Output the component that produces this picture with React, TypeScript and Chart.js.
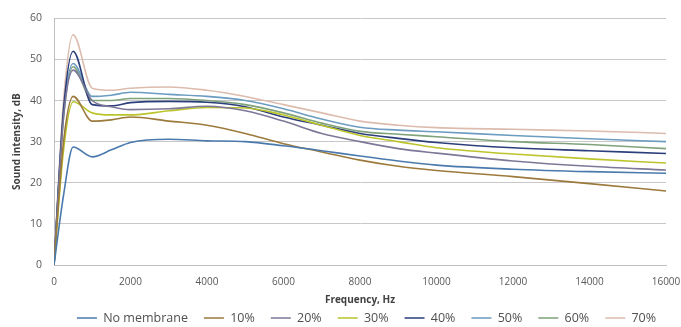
import React, { useEffect, useRef } from "react";
import { Chart, registerables } from "chart.js";

Chart.register(...registerables);

const frequencies = [0, 250, 500, 1000, 1500, 2000, 3000, 4000, 5000, 6000, 7000, 8000, 9000, 10000, 12000, 14000, 16000];

const noMembrane = [0, 17, 28.7, 26.3, 28, 29.8, 30.6, 30.2, 30, 29, 27.8, 26.5, 25.3, 24.3, 23.3, 22.7, 22.3];
const p10 = [0, 30, 41, 35, 35.3, 36, 35, 34, 32, 29.5, 27.5, 25.5, 24, 23, 21.5, 19.8, 18];
const p20 = [0, 36, 47.4, 40, 38.5, 37.8, 38, 38.6, 37.5, 35, 32, 30, 28.3, 27.2, 25.3, 24, 23.1];
const p30 = [0, 28, 39.7, 37, 36.5, 36.5, 37.5, 38.3, 38.2, 36.5, 34, 31.5, 30, 28.5, 27, 25.8, 24.8];
const p40 = [0, 38, 52, 39, 38.7, 39.5, 39.8, 39.6, 38.5, 36, 34, 32, 30.8, 29.8, 28.5, 27.8, 27.1];
const p50 = [0, 37, 49, 41, 41.3, 42, 41.5, 41, 40, 38, 35.5, 33.5, 32.8, 32.4, 31.5, 30.7, 30];
const p60 = [0, 36, 48.2, 40, 40, 40.5, 40.5, 40, 39, 37, 34.5, 32.5, 31.8, 31.2, 30, 29.3, 28.3];
const p70 = [0, 40, 56, 43, 42.5, 43, 43.3, 42.5, 41, 39, 37, 35, 34, 33.4, 33, 32.6, 32];

const seriesNames = ["No membrane", "10%", "20%", "30%", "40%", "50%", "60%", "70%"];
const seriesValues = [noMembrane, p10, p20, p30, p40, p50, p60, p70];
const seriesColors = ["#4a7aad", "#9c7a3c", "#7d7898", "#bcc42c", "#2c3f7c", "#6c9cc0", "#7fa27a", "#dcbcae"];

const xTicks = [0, 2000, 4000, 6000, 8000, 10000, 12000, 14000, 16000];
const yTicks = [0, 10, 20, 30, 40, 50, 60];

const LEGEND_PAD = 16;
const LEGEND_CENTER_Y = 318;
const LEGEND_FONT = 12.5;
const LEGEND_SHIFT_X = 26;

const legendPlacement = {
  id: "legendPlacement",
  afterInit(chart: any) {
    const lg = chart.legend;
    if (!lg) return;
    const orig = lg.fit.bind(lg);
    lg.fit = () => {
      orig();
      lg.height = 14;
    };
  },
  afterLayout(chart: any) {
    const lg = chart.legend;
    if (!lg) return;
    lg.top = LEGEND_CENTER_Y - LEGEND_PAD - LEGEND_FONT / 2;
    lg.bottom = chart.height;
    lg.height = lg.bottom - lg.top;
    lg.left += LEGEND_SHIFT_X;
    lg.right += LEGEND_SHIFT_X;
  },
};

export default function App() {
  const ref = useRef<HTMLCanvasElement | null>(null);
  useEffect(() => {
    document.body.style.margin = "0";
    const ctx = ref.current!;
    const chart = new Chart(ctx, {
      type: "line",
      data: {
        datasets: seriesNames.map((name, i) => ({
          label: name,
          data: frequencies.map((f, j) => ({ x: f, y: seriesValues[i][j] })),
          borderColor: seriesColors[i],
          backgroundColor: seriesColors[i],
          borderWidth: 1.6,
          pointRadius: 0,
          tension: 0.4,
          cubicInterpolationMode: "monotone" as const,
          fill: false,
        })),
      },
      plugins: [legendPlacement],
      options: {
        animation: false,
        responsive: false,
        maintainAspectRatio: false,
        layout: { padding: { top: 12, left: 0, right: 0, bottom: 0 } },
        plugins: {
          legend: {
            position: "bottom",
            labels: {
              boxWidth: 20,
              boxHeight: 0,
              padding: LEGEND_PAD,
              color: "#505050",
              font: { family: "'Open Sans', sans-serif", size: LEGEND_FONT },
            },
          },
          tooltip: { enabled: false },
        },
        scales: {
          x: {
            type: "linear",
            min: 0,
            max: 16000,
            afterBuildTicks: (s: any) => {
              s.ticks = xTicks.map((v) => ({ value: v }));
            },
            afterFit: (s: any) => {
              s.height = 48;
              s.paddingRight = 15;
              s.paddingLeft = 0;
            },
            grid: { display: false, drawTicks: false },
            border: { display: true, color: "#bfbfbf" },
            ticks: {
              color: "#595959",
              font: { family: "'Open Sans', sans-serif", size: 10 },
              maxRotation: 0,
              autoSkip: false,
              padding: 11,
              callback: (v: any) => String(v),
            },
            title: {
              display: true,
              text: "Frequency, Hz",
              color: "#404040",
              font: { family: "'Open Sans', sans-serif", size: 10, weight: "bold" },
              padding: { top: 0, bottom: 7 },
            },
          },
          y: {
            min: 0,
            max: 60,
            afterBuildTicks: (s: any) => {
              s.ticks = yTicks.map((v) => ({ value: v }));
            },
            afterFit: (s: any) => {
              s.width = 54;
            },
            grid: { color: "#c8c8c8", drawTicks: false },
            border: { display: true, color: "#bfbfbf" },
            ticks: {
              color: "#595959",
              font: { family: "'Open Sans', sans-serif", size: 10.5 },
              padding: 12,
            },
            title: {
              display: true,
              text: "Sound intensity, dB",
              color: "#404040",
              font: { family: "'Open Sans', sans-serif", size: 10, weight: "bold" },
              padding: { top: 11, bottom: 0 },
            },
          },
        },
      },
    });
    return () => chart.destroy();
  }, []);
  return (
    <div style={{ width: 681, height: 327, background: "#ffffff" }}>
      <canvas ref={ref} width={681} height={327} style={{ width: 681, height: 327 }} />
    </div>
  );
}
